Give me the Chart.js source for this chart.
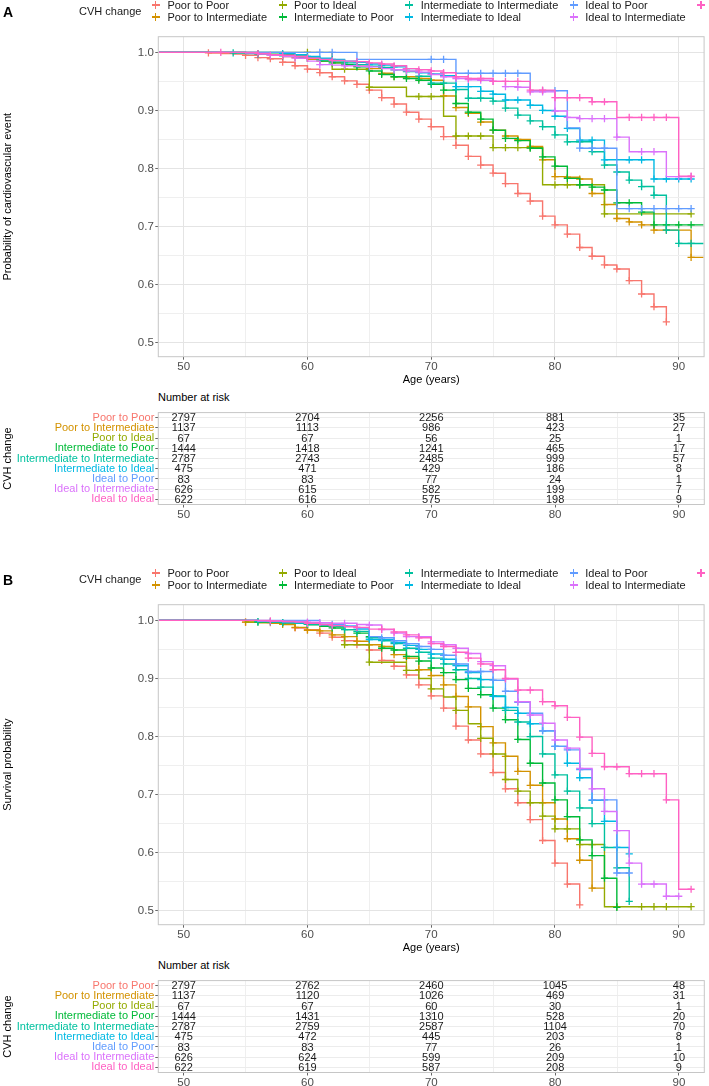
<!DOCTYPE html>
<html>
<head>
<meta charset="utf-8">
<script src="https://cdn.jsdelivr.net/npm/chart.js@4.4.9/dist/chart.umd.min.js"></script>
<style>
  html, body { margin: 0; padding: 0; background: #fff; }
  body { width: 709px; height: 1086px; overflow: hidden; position: relative; font-family: "Liberation Sans", Arial, sans-serif; }
  .abs { position: absolute; left: 0; }
  .tag { position: absolute; left: 3px; font-size: 14px; font-weight: bold; line-height: 16px; }
  .legend { position: absolute; left: 79px; height: 24px; display: flex; align-items: center; white-space: nowrap; font-size: 11px; color: #1a1a1a; }
  .lg-title { margin-right: 6px; }
  .lg-col { display: flex; flex-direction: column; height: 24px; margin-right: 7px; }
  .lg-item { display: flex; align-items: center; height: 12px; }
  .lg-item span.txt { padding-left: 3px; }
  .lg-key { position: relative; width: 17px; height: 12px; }
  .lg-key::before { content: ""; position: absolute; left: 4.5px; top: 5.4px; width: 8px; height: 1.2px; background: currentColor; }
  .lg-key::after { content: ""; position: absolute; left: 7.9px; top: 2px; width: 1.2px; height: 8px; background: currentColor; }
  .risk-title { position: absolute; left: 158px; font-size: 11px; line-height: 13px; color: #000; }
</style>
</head>
<body>
<canvas id="kmA" class="abs" style="top:0px" width="709" height="387"></canvas>
<div class="tag" style="top:4px">A</div>
<div class="legend" id="legendA" style="top:-1px"></div>
<div class="risk-title" style="top:391px">Number at risk</div>
<canvas id="riskA" class="abs" style="top:405px" width="709" height="118"></canvas>

<canvas id="kmB" class="abs" style="top:568px" width="709" height="387"></canvas>
<div class="tag" style="top:572px">B</div>
<div class="legend" id="legendB" style="top:567px"></div>
<div class="risk-title" style="top:959px">Number at risk</div>
<canvas id="riskB" class="abs" style="top:973px" width="709" height="118"></canvas>

<script>
const groups = ["Poor to Poor", "Poor to Intermediate", "Poor to Ideal", "Intermediate to Poor",
  "Intermediate to Intermediate", "Intermediate to Ideal", "Ideal to Poor", "Ideal to Intermediate", "Ideal to Ideal"];
const colors = ["#F8766D", "#D39200", "#93AA00", "#00BA38", "#00C19F", "#00B9E3", "#619CFF", "#DB72FB", "#FF61C3"];

// every survival array starts at this age, one value per year
const startAge = 48;

// panel A - probability of cardiovascular event free
const poorPoorA = [1, 1, 1, 1, 0.999, 0.998, 0.997, 0.995, 0.991, 0.989, 0.983, 0.977, 0.971, 0.965, 0.958, 0.951, 0.945, 0.935, 0.922, 0.911, 0.897, 0.885, 0.872, 0.855, 0.840, 0.821, 0.806, 0.792, 0.774, 0.757, 0.744, 0.718, 0.703, 0.687, 0.664, 0.649, 0.634, 0.627, 0.607, 0.584, 0.562, 0.536];
const poorIntA = [1, 1, 1, 1, 1, 1, 1, 0.999, 0.997, 0.995, 0.993, 0.991, 0.988, 0.985, 0.982, 0.979, 0.976, 0.972, 0.964, 0.958, 0.958, 0.955, 0.952, 0.925, 0.905, 0.895, 0.88, 0.866, 0.856, 0.85, 0.838, 0.815, 0.786, 0.785, 0.782, 0.757, 0.738, 0.714, 0.708, 0.703, 0.694, 0.694, 0.694, 0.647, 0.647];
const poorIdealA = [1, 1, 1, 1, 1, 1, 1, 1, 1, 1, 1, 1, 1, 1, 0.971, 0.971, 0.971, 0.94, 0.94, 0.94, 0.924, 0.924, 0.924, 0.89, 0.856, 0.856, 0.856, 0.836, 0.836, 0.836, 0.836, 0.772, 0.772, 0.772, 0.772, 0.772, 0.722, 0.722, 0.722, 0.722, 0.722, 0.722, 0.722, 0.722];
const intPoorA = [1, 1, 1, 1, 1, 1, 1, 0.999, 0.998, 0.997, 0.996, 0.994, 0.99, 0.985, 0.982, 0.979, 0.975, 0.968, 0.962, 0.958, 0.955, 0.952, 0.945, 0.935, 0.912, 0.897, 0.885, 0.866, 0.852, 0.848, 0.835, 0.82, 0.804, 0.783, 0.772, 0.768, 0.763, 0.741, 0.741, 0.725, 0.703, 0.703, 0.703, 0.703, 0.703];
const intIntA = [1, 1, 1, 1, 1, 1, 0.999, 0.998, 0.997, 0.996, 0.994, 0.992, 0.99, 0.987, 0.985, 0.982, 0.979, 0.976, 0.974, 0.97, 0.967, 0.959, 0.947, 0.947, 0.936, 0.921, 0.921, 0.916, 0.904, 0.892, 0.882, 0.872, 0.858, 0.846, 0.846, 0.829, 0.806, 0.794, 0.78, 0.769, 0.754, 0.694, 0.671, 0.671, 0.671];
const intIdealA = [1, 1, 1, 1, 1, 1, 1, 1, 1, 1, 0.998, 0.996, 0.993, 0.99, 0.988, 0.985, 0.983, 0.98, 0.978, 0.975, 0.972, 0.965, 0.963, 0.96, 0.941, 0.941, 0.933, 0.928, 0.918, 0.918, 0.909, 0.9, 0.89, 0.869, 0.849, 0.849, 0.815, 0.815, 0.815, 0.815, 0.782, 0.782, 0.782, 0.782];
const idealPoorA = [1, 1, 1, 1, 1, 1, 1, 1, 1, 1, 1, 1, 1, 1, 1, 1, 0.988, 0.988, 0.988, 0.988, 0.988, 0.988, 0.988, 0.988, 0.964, 0.964, 0.964, 0.964, 0.964, 0.964, 0.934, 0.934, 0.934, 0.87, 0.835, 0.835, 0.835, 0.731, 0.731, 0.731, 0.731, 0.731, 0.731, 0.731];
const idealIntA = [1, 1, 1, 1, 1, 1, 1, 0.999, 0.997, 0.995, 0.993, 0.99, 0.985, 0.979, 0.978, 0.977, 0.976, 0.975, 0.972, 0.97, 0.968, 0.966, 0.962, 0.958, 0.955, 0.953, 0.952, 0.95, 0.941, 0.94, 0.932, 0.932, 0.899, 0.888, 0.886, 0.886, 0.886, 0.854, 0.829, 0.829, 0.829, 0.786, 0.786, 0.786];
const idealIdealA = [1, 1, 1, 1, 1, 1, 1, 1, 0.998, 0.996, 0.995, 0.993, 0.99, 0.988, 0.986, 0.985, 0.984, 0.982, 0.98, 0.977, 0.972, 0.97, 0.968, 0.965, 0.958, 0.955, 0.955, 0.95, 0.95, 0.95, 0.935, 0.935, 0.922, 0.922, 0.922, 0.915, 0.915, 0.888, 0.888, 0.888, 0.888, 0.888, 0.787, 0.787];

// censor marks (ages) panel A
const marksA = [
  [52, 55, 56, 57, 58, 59, 60, 61, 62, 63, 64, 65, 66, 67, 68, 69, 70, 71, 72, 73, 74, 75, 76, 77, 78, 79, 80, 81, 82, 83, 84, 85, 86, 87, 88, 89],
  [57, 59, 61, 63, 64, 65, 66, 67, 68, 69, 70, 71, 72, 73, 74, 75, 76, 77, 78, 79, 80, 81, 82, 83, 84, 85, 86, 87, 88, 89, 91],
  [60, 63, 65, 69, 70, 72, 73, 74, 75, 76, 77, 78, 80, 81, 82, 84, 91],
  [56, 58, 60, 62, 63, 64, 65, 66, 67, 68, 69, 70, 71, 72, 73, 74, 75, 76, 77, 78, 79, 80, 81, 82, 83, 84, 85, 86, 87, 88, 89, 90, 91],
  [54, 56, 58, 60, 61, 62, 63, 64, 65, 66, 67, 68, 69, 70, 71, 72, 73, 74, 75, 76, 77, 78, 79, 80, 81, 82, 83, 84, 85, 86, 87, 88, 89, 90, 91],
  [58, 60, 62, 64, 65, 66, 67, 68, 69, 70, 71, 72, 73, 74, 75, 76, 77, 78, 79, 80, 81, 82, 83, 84, 86, 87, 88, 89, 90, 91],
  [61, 62, 70, 71, 73, 74, 75, 76, 77, 79, 80, 82, 83, 84, 86, 87, 88, 89, 90, 91],
  [57, 59, 61, 63, 65, 67, 68, 69, 70, 71, 72, 73, 74, 75, 76, 77, 78, 79, 80, 81, 82, 83, 84, 85, 87, 88, 90, 91],
  [53, 56, 58, 60, 62, 64, 65, 66, 67, 68, 69, 70, 71, 72, 73, 74, 75, 76, 77, 78, 79, 80, 81, 82, 83, 84, 86, 87, 88, 89, 91]
];

// panel B - survival probability
const poorPoorB = [1, 1, 1, 1, 1, 1, 1, 0.997, 0.997, 0.996, 0.994, 0.987, 0.984, 0.978, 0.971, 0.965, 0.958, 0.949, 0.931, 0.921, 0.906, 0.889, 0.87, 0.849, 0.818, 0.794, 0.77, 0.738, 0.71, 0.686, 0.657, 0.621, 0.582, 0.546, 0.51];
const poorIntB = [1, 1, 1, 1, 1, 1, 1, 0.997, 0.996, 0.995, 0.993, 0.988, 0.983, 0.982, 0.975, 0.972, 0.964, 0.958, 0.955, 0.941, 0.935, 0.915, 0.905, 0.889, 0.869, 0.851, 0.817, 0.789, 0.766, 0.74, 0.716, 0.686, 0.658, 0.624, 0.587, 0.539, 0.539];
const poorIdealB = [1, 1, 1, 1, 1, 1, 1, 0.997, 0.997, 0.997, 0.997, 0.997, 0.993, 0.99, 0.99, 0.958, 0.958, 0.928, 0.928, 0.928, 0.914, 0.9, 0.882, 0.868, 0.845, 0.822, 0.797, 0.77, 0.726, 0.706, 0.686, 0.663, 0.641, 0.641, 0.614, 0.614, 0.507, 0.507, 0.507, 0.507, 0.507, 0.507, 0.507, 0.507];
const intPoorB = [1, 1, 1, 1, 1, 1, 1, 1, 0.997, 0.997, 0.996, 0.995, 0.993, 0.99, 0.987, 0.984, 0.978, 0.972, 0.952, 0.949, 0.938, 0.93, 0.918, 0.91, 0.898, 0.883, 0.872, 0.849, 0.829, 0.795, 0.754, 0.72, 0.691, 0.662, 0.622, 0.595, 0.556, 0.506];
const intIntB = [1, 1, 1, 1, 1, 1, 1, 1, 0.998, 0.997, 0.996, 0.995, 0.993, 0.992, 0.99, 0.984, 0.981, 0.97, 0.965, 0.96, 0.952, 0.945, 0.935, 0.925, 0.915, 0.9, 0.885, 0.87, 0.845, 0.825, 0.8, 0.77, 0.734, 0.706, 0.677, 0.65, 0.609, 0.574, 0.516];
const intIdealB = [1, 1, 1, 1, 1, 1, 1, 1, 0.999, 0.998, 0.997, 0.996, 0.995, 0.993, 0.992, 0.99, 0.985, 0.967, 0.967, 0.962, 0.957, 0.95, 0.942, 0.933, 0.922, 0.91, 0.898, 0.869, 0.85, 0.84, 0.822, 0.81, 0.783, 0.754, 0.729, 0.69, 0.654, 0.609, 0.598];
const idealPoorB = [1, 1, 1, 1, 1, 1, 1, 1, 1, 1, 1, 1, 1, 0.993, 0.993, 0.99, 0.987, 0.972, 0.97, 0.965, 0.96, 0.955, 0.95, 0.94, 0.925, 0.912, 0.912, 0.897, 0.878, 0.859, 0.84, 0.81, 0.783, 0.777, 0.743, 0.691, 0.691, 0.565, 0.565];
const idealIntB = [1, 1, 1, 1, 1, 1, 1, 1, 0.999, 0.999, 0.998, 0.998, 0.997, 0.996, 0.995, 0.995, 0.993, 0.992, 0.984, 0.978, 0.972, 0.972, 0.963, 0.958, 0.952, 0.943, 0.929, 0.922, 0.899, 0.86, 0.837, 0.823, 0.794, 0.78, 0.745, 0.71, 0.671, 0.638, 0.582, 0.546, 0.546, 0.525, 0.525];
const idealIdealB = [1, 1, 1, 1, 1, 1, 1, 1, 1, 0.999, 0.998, 0.997, 0.995, 0.993, 0.991, 0.989, 0.988, 0.985, 0.985, 0.98, 0.975, 0.97, 0.96, 0.955, 0.945, 0.935, 0.925, 0.915, 0.9, 0.88, 0.88, 0.86, 0.853, 0.833, 0.799, 0.771, 0.748, 0.748, 0.736, 0.736, 0.736, 0.691, 0.537, 0.537];

// censor marks (ages) panel B
const marksB = [
  [55, 57, 59, 60, 61, 62, 63, 64, 65, 66, 67, 68, 69, 70, 71, 72, 73, 74, 75, 76, 77, 78, 79, 80, 81, 82],
  [55, 58, 59, 60, 61, 62, 63, 64, 65, 66, 67, 68, 69, 70, 71, 72, 73, 74, 75, 76, 77, 78, 79, 80, 81, 82, 83],
  [60, 63, 65, 68, 70, 72, 74, 75, 76, 77, 78, 79, 80, 81, 82, 83, 85, 87, 88, 89, 91],
  [56, 58, 60, 62, 64, 65, 66, 67, 68, 69, 70, 71, 72, 73, 74, 75, 76, 77, 78, 79, 80, 81, 82, 83, 84, 85],
  [56, 58, 60, 62, 63, 64, 65, 66, 67, 68, 69, 70, 71, 72, 73, 74, 75, 76, 77, 78, 79, 80, 81, 82, 83, 84, 85, 86],
  [57, 60, 63, 65, 66, 67, 68, 69, 70, 71, 72, 73, 74, 75, 76, 77, 78, 79, 80, 81, 82, 83, 84, 85, 86],
  [62, 64, 66, 67, 68, 69, 70, 71, 72, 73, 74, 75, 76, 77, 78, 79, 80, 81, 82, 83, 84, 85, 86],
  [60, 61, 63, 65, 66, 67, 68, 69, 70, 71, 72, 73, 74, 75, 76, 77, 78, 79, 80, 81, 82, 83, 84, 85, 86, 87, 88, 89, 90],
  [57, 60, 62, 64, 66, 67, 68, 69, 70, 71, 72, 73, 74, 75, 76, 77, 78, 79, 80, 81, 82, 83, 84, 85, 86, 87, 88, 89, 91]
];

// number at risk tables
const riskAges = [50, 60, 70, 80, 90];
const riskA = [
  [2797, 2704, 2256, 881, 35],
  [1137, 1113, 986, 423, 27],
  [67, 67, 56, 25, 1],
  [1444, 1418, 1241, 465, 17],
  [2787, 2743, 2485, 999, 57],
  [475, 471, 429, 186, 8],
  [83, 83, 77, 24, 1],
  [626, 615, 582, 199, 7],
  [622, 616, 575, 198, 9]
];
const riskB = [
  [2797, 2762, 2460, 1045, 48],
  [1137, 1120, 1026, 469, 31],
  [67, 67, 60, 30, 1],
  [1444, 1431, 1310, 528, 20],
  [2787, 2759, 2587, 1104, 70],
  [475, 472, 445, 203, 8],
  [83, 83, 77, 26, 1],
  [626, 624, 599, 209, 10],
  [622, 619, 587, 208, 9]
];

const FONT = '"Liberation Sans", Arial, sans-serif';
Chart.defaults.font.family = FONT;

const xMin = 47.95, xMax = 92.05;
const gridMajor = "#e4e4e4", gridMinor = "#efefef", tickCol = "#666";

// grey box round the panel, like ggplot
const frame = {
  id: "frame",
  afterDraw(chart) {
    const { ctx, chartArea: a } = chart;
    ctx.save();
    ctx.strokeStyle = "#c6c6c6";
    ctx.lineWidth = 1;
    ctx.strokeRect(a.left, a.top, a.right - a.left, a.bottom - a.top);
    ctx.restore();
  }
};

function isTen(v) { return Math.round(v) % 10 === 0; }

function xAxis(withTitle, height) {
  return {
    type: "linear", min: xMin, max: xMax,
    afterFit: (s) => { s.height = height; },
    border: { display: false },
    grid: {
      color: (ctx) => (ctx.tick && isTen(ctx.tick.value) ? gridMajor : gridMinor),
      tickLength: 3,
      tickColor: (ctx) => (ctx.tick && isTen(ctx.tick.value) ? tickCol : "rgba(0,0,0,0)")
    },
    ticks: {
      stepSize: 5, includeBounds: false, autoSkip: false, maxRotation: 0, padding: 0,
      color: "#4d4d4d", font: { size: 11.5 },
      callback: (v) => (isTen(v) ? v : "")
    },
    title: { display: withTitle, text: "Age (years)", color: "#000", font: { size: 11 }, padding: 0 }
  };
}

function kmChart(id, series, marks, yTitle) {
  const datasets = series.map((vals, g) => ({
    label: groups[g],
    data: vals.map((v, i) => ({ x: startAge + i, y: v })),
    borderColor: colors[g],
    backgroundColor: colors[g],
    borderWidth: 1.4,
    stepped: "before",
    fill: false,
    tension: 0,
    order: 8 - g,
    pointStyle: "cross",
    pointBorderColor: colors[g],
    pointBorderWidth: 1.3,
    pointRadius: vals.map((v, i) => (marks[g].includes(startAge + i) ? 3.6 : 0)),
    pointHoverRadius: 0
  }));

  return new Chart(document.getElementById(id), {
    type: "line",
    data: { datasets },
    options: {
      responsive: false,
      animation: false,
      events: [],
      layout: { padding: { top: 36.7, right: 4.7, left: 0, bottom: 0 } },
      plugins: { legend: { display: false }, tooltip: { enabled: false } },
      scales: {
        x: xAxis(true, 30.3),
        y: {
          type: "linear", min: 0.476, max: 1.027,
          afterFit: (s) => { s.width = 158.3; },
          border: { display: false },
          grid: {
            color: (ctx) => (ctx.tick && Math.round(ctx.tick.value * 100) % 10 === 0 ? gridMajor : gridMinor),
            tickLength: 3,
            tickColor: (ctx) => (ctx.tick && Math.round(ctx.tick.value * 100) % 10 === 0 ? tickCol : "rgba(0,0,0,0)")
          },
          ticks: {
            stepSize: 0.05, includeBounds: false, autoSkip: false, padding: 1.5,
            color: "#4d4d4d", font: { size: 11.5 },
            callback: (v) => (Math.round(v * 100) % 10 === 0 ? v.toFixed(1) : "")
          },
          title: { display: true, text: yTitle, color: "#000", font: { size: 11 }, padding: { top: 1, bottom: 0 } }
        }
      }
    },
    plugins: [frame]
  });
}

// writes the counts at their scale positions
const riskText = {
  id: "riskText",
  afterDatasetsDraw(chart) {
    const { ctx } = chart;
    const meta = chart.getDatasetMeta(0);
    const rows = chart.data.datasets[0].data;
    ctx.save();
    ctx.font = "11px " + FONT;
    ctx.fillStyle = "#1a1a1a";
    ctx.textAlign = "center";
    ctx.textBaseline = "middle";
    meta.data.forEach((pt, i) => ctx.fillText(String(rows[i].n), pt.x, pt.y + 0.5));
    ctx.restore();
  }
};

function riskChart(id, table) {
  const cells = [];
  table.forEach((row, g) => row.forEach((n, k) => cells.push({ x: riskAges[k], y: groups[g], n })));

  return new Chart(document.getElementById(id), {
    type: "scatter",
    data: { datasets: [{ data: cells, pointRadius: 0, pointHoverRadius: 0 }] },
    options: {
      responsive: false,
      animation: false,
      events: [],
      layout: { padding: { top: 4.5, right: 4.7, left: 0, bottom: 0 } },
      plugins: { legend: { display: false }, tooltip: { enabled: false } },
      scales: {
        x: xAxis(false, 18.5),
        y: {
          type: "category", labels: groups, offset: true,
          afterFit: (s) => { s.width = 158.3; },
          border: { display: false },
          grid: { color: "#ececec", tickLength: 3, tickColor: tickCol },
          ticks: {
            autoSkip: false, padding: 1, font: { size: 11 },
            color: (ctx) => colors[ctx.index]
          },
          title: { display: true, text: "CVH change", color: "#000", font: { size: 11 }, padding: { top: 1, bottom: 0 } }
        }
      }
    },
    plugins: [frame, riskText]
  });
}

function buildLegend(id) {
  const el = document.getElementById(id);
  const title = document.createElement("span");
  title.className = "lg-title";
  title.textContent = "CVH change";
  el.appendChild(title);
  for (let c = 0; c < groups.length; c += 2) {
    const col = document.createElement("div");
    col.className = "lg-col";
    for (let g = c; g < Math.min(c + 2, groups.length); g++) {
      const item = document.createElement("div");
      item.className = "lg-item";
      item.innerHTML = `<span class="lg-key" style="color:${colors[g]}"></span><span class="txt">${groups[g]}</span>`;
      col.appendChild(item);
    }
    el.appendChild(col);
  }
}

buildLegend("legendA");
buildLegend("legendB");

kmChart("kmA", [poorPoorA, poorIntA, poorIdealA, intPoorA, intIntA, intIdealA, idealPoorA, idealIntA, idealIdealA],
  marksA, "Probability of cardiovascular event");
riskChart("riskA", riskA);

kmChart("kmB", [poorPoorB, poorIntB, poorIdealB, intPoorB, intIntB, intIdealB, idealPoorB, idealIntB, idealIdealB],
  marksB, "Survival probability");
riskChart("riskB", riskB);
</script>
</body>
</html>
